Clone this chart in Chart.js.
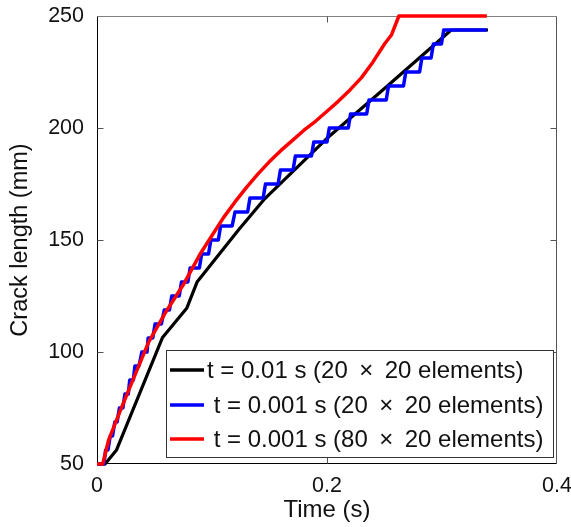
<!DOCTYPE html>
<html>
<head>
<meta charset="utf-8">
<script src="https://cdn.jsdelivr.net/npm/chart.js@4.4.1/dist/chart.umd.min.js"></script>
<style>
  html, body { margin: 0; padding: 0; background: #ffffff; }
  #wrap { width: 571px; height: 527px; position: relative; }
</style>
</head>
<body>
<div id="wrap"><canvas id="c" width="571" height="527"></canvas></div>
<script>
// ---- Data ----
const xTickValues = [0, 0.2, 0.4];
const yTickValues = [50, 100, 150, 200, 250];

const seriesLabels = [
  't = 0.01 s (20 \u2009\u00d7\u2009 20 elements)',
  ' t = 0.001 s (20 \u2009\u00d7\u2009 20 elements)',
  ' t = 0.001 s (80 \u2009\u00d7\u2009 20 elements)'
];
const seriesColors = ['#000000', '#0000ff', '#ff0000'];

// dt = 0.01 s, 20 x 20 elements (black)
const blackT = [0, 0.007, 0.017, 0.057, 0.078, 0.087, 0.123, 0.146, 0.2, 0.25, 0.308, 0.34];
const blackL = [50, 50, 56.3, 106.5, 119.5, 131.2, 154.5, 168.5, 195.4, 217.6, 243.75, 243.75];

// dt = 0.001 s, 20 x 20 elements (blue staircase): crack levels and the time span of each level
const blueLevels = [50, 56.25, 62.5, 68.75, 75, 81.25, 87.5, 93.75, 100, 106.25,
  112.5, 118.75, 125, 131.25, 137.5, 143.75, 150, 156.25, 162.5, 168.75,
  175, 181.25, 187.5, 193.75, 200, 206.25, 212.5, 218.75, 225, 231.25, 237.5, 243.75];
const blueTreadStart = [0, 0.0075, 0.0115, 0.0155, 0.0195, 0.0243, 0.0285, 0.033, 0.039, 0.0445,
  0.0505, 0.0585, 0.065, 0.0735, 0.081, 0.091, 0.099, 0.1075, 0.12, 0.133,
  0.1465, 0.1595, 0.1725, 0.1885, 0.202, 0.2205, 0.2365, 0.2535, 0.2685, 0.2825, 0.2925, 0.3015];
const blueTreadEnd = [0.006, 0.0095, 0.0135, 0.0175, 0.0225, 0.0272, 0.0316, 0.0365, 0.0435, 0.0485,
  0.056, 0.063, 0.0715, 0.079, 0.089, 0.097, 0.1055, 0.1175, 0.131, 0.1445,
  0.1575, 0.1705, 0.1865, 0.2, 0.2185, 0.2345, 0.2515, 0.2665, 0.2805, 0.2905, 0.2995, 0.339];

// dt = 0.001 s, 80 x 20 elements (red)
const redT = [0, 0.005, 0.01, 0.02, 0.03, 0.045, 0.06, 0.075, 0.09, 0.1, 0.11, 0.12, 0.13, 0.14,
  0.15, 0.16, 0.17, 0.18, 0.19, 0.2, 0.21, 0.22, 0.23, 0.24, 0.25, 0.256, 0.2625, 0.339];
const redL = [50, 50, 60.5, 73.5, 86, 104.5, 118, 130, 144, 152, 160, 167, 173.5, 179.5,
  185, 190, 194.5, 199, 203, 207.5, 212, 217, 222.5, 229.5, 237.5, 241.5, 250, 250];

// ---- Build datasets from the arrays ----
function pairs(ts, ls) { return ts.map((t, i) => ({ x: t, y: ls[i] })); }
const bluePts = [];
blueLevels.forEach((lv, i) => {
  bluePts.push({ x: blueTreadStart[i], y: lv });
  bluePts.push({ x: blueTreadEnd[i], y: lv });
});

const FONT = '"Liberation Sans", Arial, Helvetica, sans-serif';
const TEXT = '#111111';

const framePlugin = {
  id: 'frame',
  beforeDatasetsDraw(chart) {
    const { ctx, chartArea: a, scales } = chart;
    const L = Math.round(a.left) + 0.5, R = Math.round(a.right) - 0.5;
    const T = Math.round(a.top) + 0.5, B = Math.round(a.bottom) - 0.5;
    ctx.save();
    ctx.lineWidth = 1;
    ctx.strokeStyle = '#808080';
    ctx.beginPath(); ctx.moveTo(L, T); ctx.lineTo(R, T); ctx.stroke();
    ctx.strokeStyle = '#555555';
    ctx.beginPath(); ctx.moveTo(R, T); ctx.lineTo(R, B); ctx.stroke();
    ctx.strokeStyle = '#000000';
    ctx.beginPath(); ctx.moveTo(L, T); ctx.lineTo(L, B); ctx.lineTo(R, B); ctx.stroke();
    const tl = 6;
    ctx.strokeStyle = '#555555';
    xTickValues.forEach(v => {
      const px = Math.round(scales.x.getPixelForValue(v)) + 0.5;
      if (px <= L + 1 || px >= R - 1) return;
      ctx.beginPath(); ctx.moveTo(px, B); ctx.lineTo(px, B - tl); ctx.stroke();
      ctx.beginPath(); ctx.moveTo(px, T); ctx.lineTo(px, T + tl); ctx.stroke();
    });
    yTickValues.forEach(v => {
      const py = Math.round(scales.y.getPixelForValue(v)) + 0.5;
      if (py <= T + 1 || py >= B - 1) return;
      ctx.beginPath(); ctx.moveTo(L, py); ctx.lineTo(L + tl, py); ctx.stroke();
      ctx.beginPath(); ctx.moveTo(R, py); ctx.lineTo(R - tl, py); ctx.stroke();
    });
    ctx.restore();
  }
};

const legendPlugin = {
  id: 'boxLegend',
  afterDraw(chart) {
    const { ctx } = chart;
    const bx = 166.5, by = 350.5, bw = 387, bh = 107;
    ctx.save();
    ctx.fillStyle = '#ffffff';
    ctx.fillRect(bx, by, bw, bh);
    ctx.strokeStyle = '#333333';
    ctx.lineWidth = 1;
    ctx.strokeRect(bx, by, bw, bh);
    const rows = [370, 405, 439];
    ctx.font = '24px ' + FONT;
    ctx.textBaseline = 'middle';
    ctx.textAlign = 'left';
    chart.data.datasets.forEach((ds, i) => {
      const y = rows[i];
      ctx.strokeStyle = ds.borderColor;
      ctx.lineWidth = 3.5;
      ctx.beginPath(); ctx.moveTo(170, y); ctx.lineTo(204, y); ctx.stroke();
      ctx.fillStyle = TEXT;
      ctx.fillText(ds.label, 207, y + 1);
    });
    ctx.restore();
  }
};

new Chart(document.getElementById('c'), {
  type: 'line',
  data: {
    datasets: [
      { label: seriesLabels[0], data: pairs(blackT, blackL), borderColor: seriesColors[0], borderWidth: 3.2, order: 3 },
      { label: seriesLabels[1], data: bluePts, borderColor: seriesColors[1], borderWidth: 3.5, order: 2 },
      { label: seriesLabels[2], data: pairs(redT, redL), borderColor: seriesColors[2], borderWidth: 3.5, order: 1 }
    ].map(d => Object.assign(d, { pointRadius: 0, tension: 0, fill: false, clip: 6, borderJoinStyle: 'round', borderCapStyle: 'butt' }))
  },
  options: {
    responsive: false,
    animation: false,
    devicePixelRatio: 1,
    layout: { padding: { top: 16, right: 14, left: 0, bottom: 0 } },
    plugins: { legend: { display: false }, tooltip: { enabled: false } },
    scales: {
      x: {
        type: 'linear', min: 0, max: 0.4,
        afterBuildTicks: s => { s.ticks = xTickValues.map(v => ({ value: v })); },
        afterFit: s => { s.height = 63; s.paddingLeft = 0; s.paddingRight = 0; },
        grid: { display: false, drawTicks: false },
        border: { display: false },
        ticks: {
          autoSkip: false, maxRotation: 0, padding: 9, color: TEXT,
          font: { family: FONT, size: 21.5 },
          callback: v => String(v)
        },
        title: { display: true, text: 'Time (s)', color: TEXT, font: { family: FONT, size: 24 }, padding: { top: 0, bottom: 2 } }
      },
      y: {
        type: 'linear', min: 50, max: 250,
        afterBuildTicks: s => { s.ticks = yTickValues.map(v => ({ value: v })); },
        afterFit: s => { s.width = 97; s.paddingTop = 0; s.paddingBottom = 0; },
        grid: { display: false, drawTicks: false },
        border: { display: false },
        ticks: {
          autoSkip: false, padding: 13, color: TEXT,
          font: { family: FONT, size: 21.5 },
          callback: v => String(v)
        },
        title: { display: true, text: 'Crack length (mm)', color: TEXT, font: { family: FONT, size: 23.5 }, padding: { top: 6, bottom: 0 } }
      }
    }
  },
  plugins: [framePlugin, legendPlugin]
});
</script>
</body>
</html>
